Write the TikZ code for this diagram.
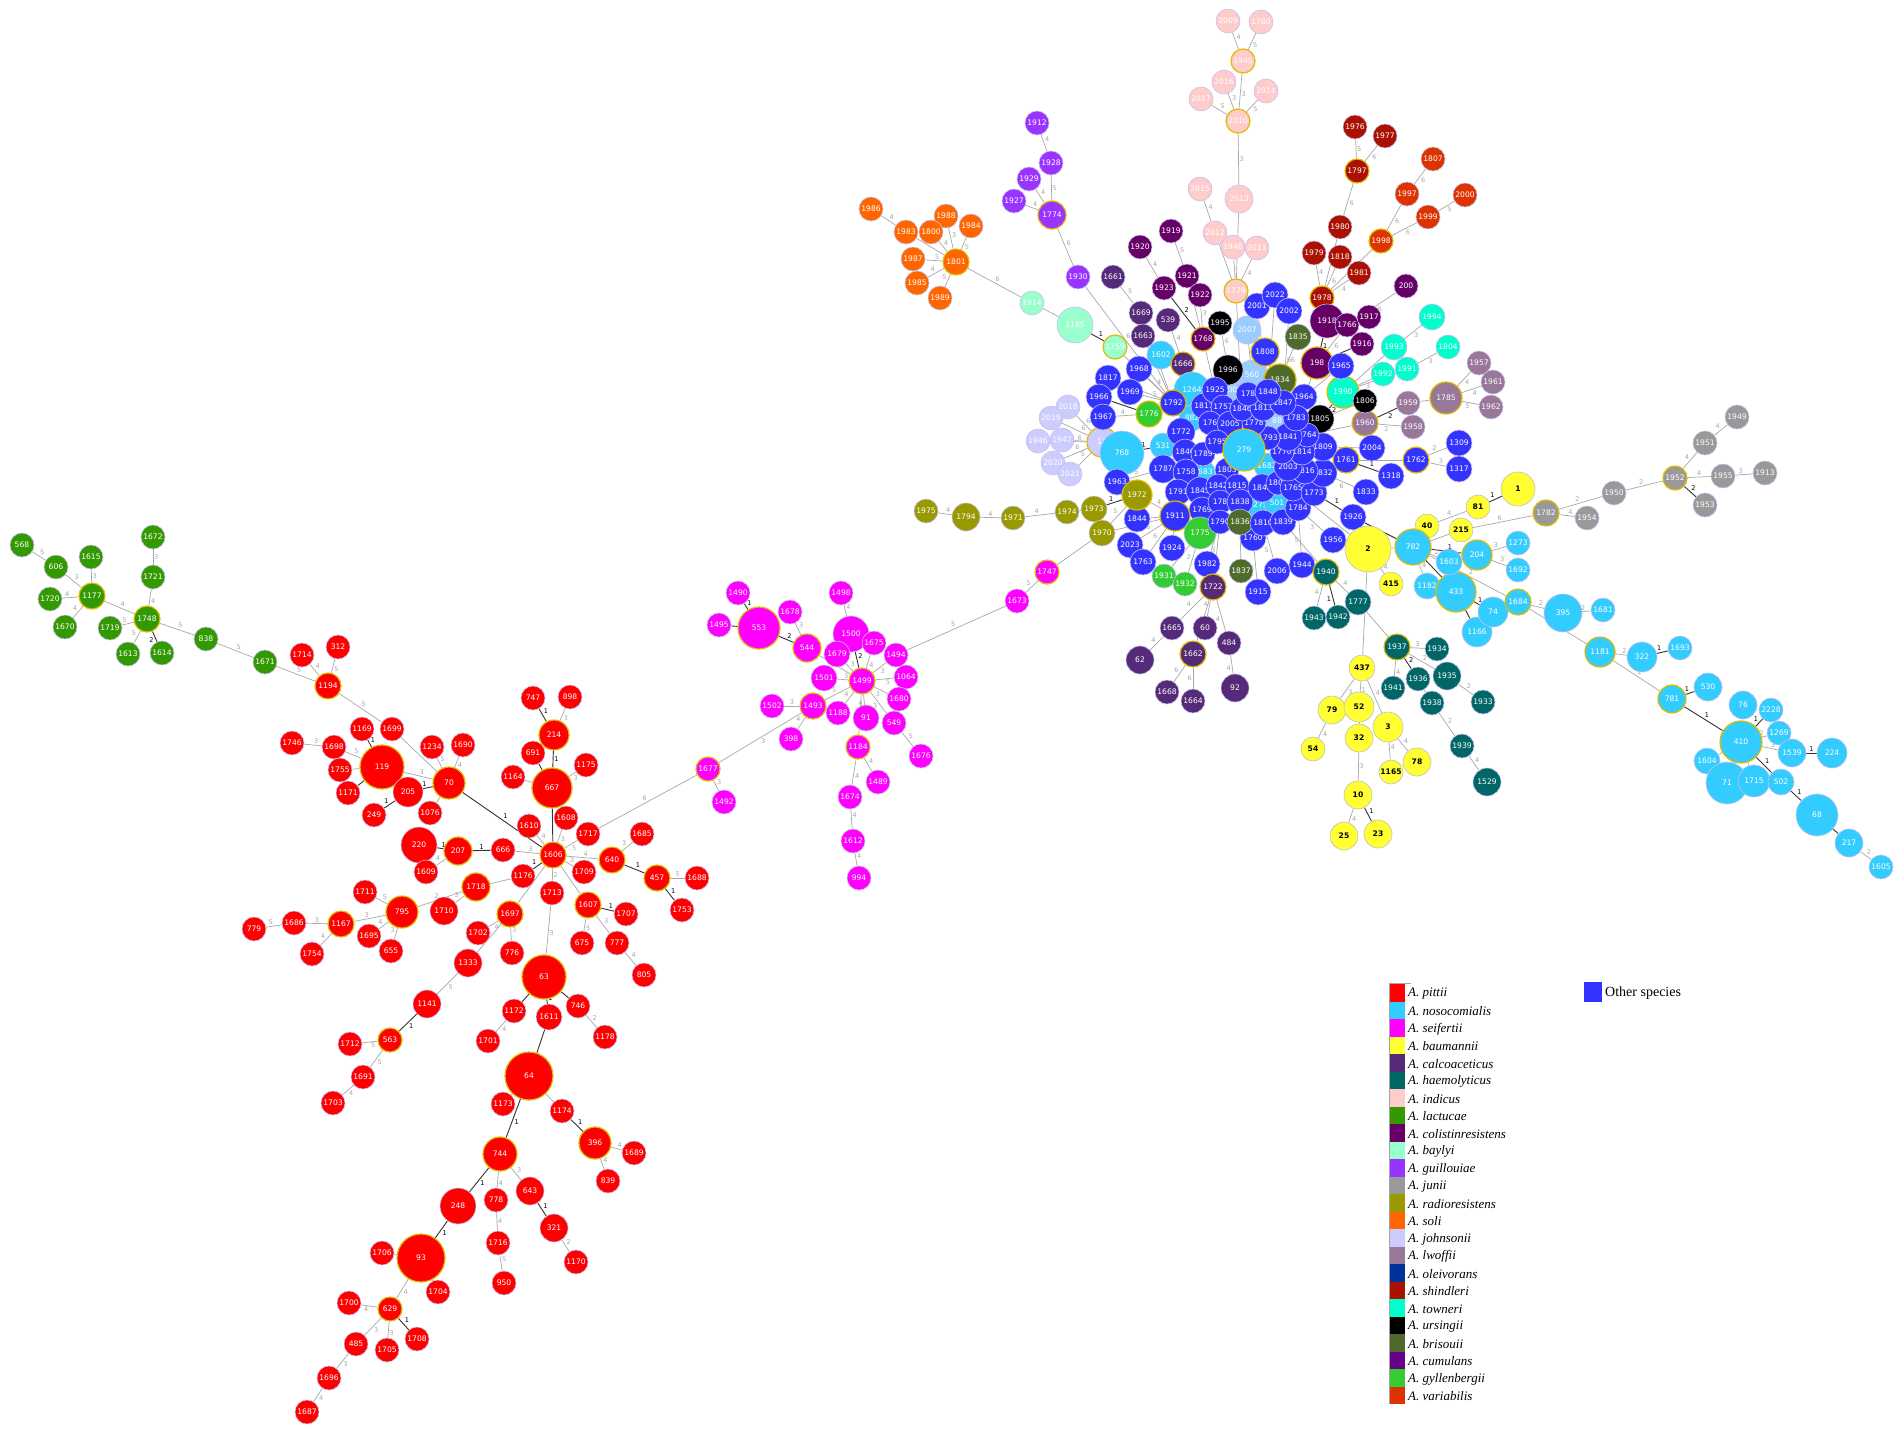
\documentclass[tikz,border=0pt]{standalone}
\usepackage{fontspec}
\setsansfont{DejaVu Sans}
\newfontfamily\legfont{Liberation Serif}
\usetikzlibrary{backgrounds}
\pgfdeclarelayer{bgzero}
\pgfsetlayers{bgzero,background,main}
\definecolor{cPit}{HTML}{FF0000}
\definecolor{cNos}{HTML}{33CCFF}
\definecolor{cSei}{HTML}{FF00FF}
\definecolor{cBau}{HTML}{FFFF33}
\definecolor{cCal}{HTML}{552A78}
\definecolor{cHae}{HTML}{006666}
\definecolor{cInd}{HTML}{FFCCCC}
\definecolor{cLac}{HTML}{339900}
\definecolor{cCol}{HTML}{660066}
\definecolor{cBay}{HTML}{99FFCC}
\definecolor{cGui}{HTML}{9933FF}
\definecolor{cJun}{HTML}{999999}
\definecolor{cRad}{HTML}{999900}
\definecolor{cSol}{HTML}{FF6600}
\definecolor{cJoh}{HTML}{CCCCFF}
\definecolor{cLwo}{HTML}{997799}
\definecolor{cOle}{HTML}{003399}
\definecolor{cShi}{HTML}{AA1100}
\definecolor{cTow}{HTML}{00FFCC}
\definecolor{cUrs}{HTML}{000000}
\definecolor{cBri}{HTML}{4F6B2B}
\definecolor{cCum}{HTML}{660088}
\definecolor{cGyl}{HTML}{33CC33}
\definecolor{cVar}{HTML}{DD3300}
\definecolor{cOth}{HTML}{3333FF}
\definecolor{cLb}{HTML}{99CCFF}
\definecolor{cBord}{HTML}{C8C0F0}
\definecolor{cRing}{HTML}{DDBB00}
\definecolor{cEdge}{HTML}{A8A8A8}
\definecolor{cDark}{HTML}{333333}
\tikzset{
 nd/.style={circle,draw=cBord,line width=0.6pt,inner sep=0pt,text=white,font=\sffamily\fontsize{7.6}{8}\selectfont},
 ring/.style={draw=cRing,line width=1.2pt},
 yl/.style={text=black,draw=gray!50,font=\sffamily\bfseries\fontsize{7.6}{8}\selectfont},
 ed/.style={draw=cEdge,line width=0.7pt},
 dk/.style={draw=cDark,line width=0.9pt},
 el/.style={font=\sffamily\fontsize{6.5}{7}\selectfont,text=cEdge,inner sep=0.8pt,auto},
 dl/.style={font=\sffamily\fontsize{6.5}{7}\selectfont,text=black,inner sep=0.8pt,auto},
 leg/.style={anchor=west,inner sep=0pt,font=\legfont\itshape\fontsize{13}{14}\selectfont},
}
\newcommand\Nd[5][]{\node[nd,fill=#4,minimum size=#5pt,#1] (n#2) at (#3) {#2};}
\newcommand\NdL[6][]{\node[nd,fill=#4,minimum size=#5pt,#1] (n#2) at (#3) {#6};}
\newcommand\Ed[3]{\draw[ed] (n#1) -- node[el]{#3} (n#2);}
\newcommand\EdP[4]{\draw[ed] (n#1) -- node[el,pos=#4]{#3} (n#2);}
\newcommand\Dk[2]{\draw[dk] (n#1) -- node[dl]{1} (n#2);}
\newcommand\Dn[3]{\draw[dk] (n#1) -- node[dl]{#3} (n#2);}
\begin{document}
\begin{tikzpicture}[x=1pt,y=-1pt]
\begin{pgfonlayer}{bgzero}
\fill[white] (0,0) rectangle (1902,1435);
\end{pgfonlayer}
\useasboundingbox (0,0) rectangle (1902,1435);
% ---------------- lactucae
\Nd{568}{22,545}{cLac}{24}
\Nd{606}{56,567}{cLac}{24}
\Nd{1615}{91,557}{cLac}{24}
\Nd{1720}{50,599}{cLac}{24}
\Nd[ring]{1177}{92,596}{cLac}{26}
\Nd{1670}{65,627}{cLac}{24}
\Nd{1672}{153,537}{cLac}{24}
\Nd{1721}{153,577}{cLac}{24}
\Nd[ring]{1748}{147,619}{cLac}{26}
\Nd{1719}{110,628}{cLac}{24}
\Nd{1613}{128,654}{cLac}{24}
\Nd{1614}{162,653}{cLac}{24}
\Nd{838}{206,639}{cLac}{24}
\Nd{1671}{265,662}{cLac}{24}
% ---------------- pittii
\Nd{1714}{302,655}{cPit}{24}
\Nd{312}{338,647}{cPit}{24}
\Nd[ring]{1194}{328,686}{cPit}{26}
\Nd{1169}{362,729}{cPit}{24}
\Nd{1699}{392,729}{cPit}{24}
\Nd{1746}{292,743}{cPit}{24}
\Nd{1698}{334,747}{cPit}{24}
\Nd{1755}{340,770}{cPit}{24}
\Nd{1171}{348,793}{cPit}{24}
\Nd[ring]{119}{382,767}{cPit}{44}
\Nd{1234}{432,747}{cPit}{24}
\Nd{1690}{463,745}{cPit}{24}
\Nd{249}{374,815}{cPit}{24}
\Nd{1076}{430,813}{cPit}{24}
\Nd{205}{408,792}{cPit}{30}
\Nd[ring]{70}{449,783}{cPit}{32}
\Nd{747}{533,698}{cPit}{24}
\Nd{898}{570,697}{cPit}{24}
\Nd[ring]{214}{554,735}{cPit}{30}
\Nd{691}{533,753}{cPit}{24}
\Nd{1175}{586,765}{cPit}{24}
\Nd{1164}{513,777}{cPit}{24}
\Nd[ring]{667}{552,788}{cPit}{40}
\Nd{1608}{566,818}{cPit}{24}
\Nd{1610}{529,826}{cPit}{24}
\Nd{220}{419,845}{cPit}{36}
\Nd[ring]{207}{458,851}{cPit}{28}
\Nd{666}{503,850}{cPit}{24}
\Nd{1609}{426,872}{cPit}{24}
\Nd{1717}{588,834}{cPit}{24}
\Nd{1685}{642,834}{cPit}{24}
\Nd[ring]{640}{612,860}{cPit}{26}
\Nd[ring]{457}{657,878}{cPit}{26}
\Nd{1688}{697,878}{cPit}{24}
\Nd{1753}{682,910}{cPit}{24}
\Nd{1709}{584,872}{cPit}{24}
\Nd{1176}{523,876}{cPit}{24}
\Nd[ring]{1606}{553,855}{cPit}{26}
\Nd[ring]{1718}{476,887}{cPit}{28}
\Nd{1713}{552,893}{cPit}{24}
\Nd{1711}{365,892}{cPit}{24}
\Nd{1710}{444,911}{cPit}{28}
\Nd[ring]{795}{402,912}{cPit}{32}
\Nd[ring]{1607}{588,905}{cPit}{26}
\Nd{1707}{626,914}{cPit}{24}
\Nd[ring]{1697}{510,914}{cPit}{26}
\Nd{779}{254,929}{cPit}{24}
\Nd{1686}{294,923}{cPit}{24}
\Nd[ring]{1167}{341,924}{cPit}{26}
\Nd{1695}{369,936}{cPit}{24}
\Nd{655}{391,951}{cPit}{24}
\Nd{1754}{312,954}{cPit}{24}
\Nd{1702}{478,933}{cPit}{24}
\Nd{776}{512,953}{cPit}{24}
\Nd{675}{582,943}{cPit}{24}
\Nd{777}{617,943}{cPit}{24}
\Nd{805}{644,975}{cPit}{24}
\Nd{1333}{468,963}{cPit}{28}
\Nd[ring]{63}{544,977}{cPit}{44}
\Nd{1141}{427,1004}{cPit}{28}
\Nd{1172}{514,1011}{cPit}{24}
\Nd{1611}{549,1017}{cPit}{26}
\Nd{746}{578,1006}{cPit}{24}
\Nd{1178}{605,1037}{cPit}{24}
\Nd{1701}{488,1041}{cPit}{24}
\Nd[ring]{563}{390,1040}{cPit}{24}
\Nd{1712}{350,1044}{cPit}{24}
\Nd{1691}{363,1077}{cPit}{24}
\Nd{1703}{333,1103}{cPit}{24}
\Nd[ring]{64}{529,1076}{cPit}{48}
\Nd{1173}{503,1104}{cPit}{24}
\Nd{1174}{562,1111}{cPit}{24}
\Nd[ring]{396}{595,1143}{cPit}{32}
\Nd{1689}{634,1153}{cPit}{24}
\Nd{839}{608,1181}{cPit}{24}
\Nd[ring]{744}{500,1154}{cPit}{34}
\Nd{778}{496,1200}{cPit}{24}
\Nd{643}{530,1191}{cPit}{28}
\Nd{248}{458,1206}{cPit}{36}
\Nd{321}{554,1228}{cPit}{28}
\Nd{1716}{498,1243}{cPit}{24}
\Nd{1170}{576,1262}{cPit}{24}
\Nd{950}{504,1283}{cPit}{24}
\Nd{1706}{382,1253}{cPit}{24}
\Nd[ring]{93}{421,1258}{cPit}{48}
\Nd{1704}{438,1292}{cPit}{24}
\Nd{1700}{349,1303}{cPit}{24}
\Nd[ring]{629}{390,1309}{cPit}{24}
\Nd{485}{356,1344}{cPit}{24}
\Nd{1705}{387,1350}{cPit}{24}
\Nd{1708}{417,1339}{cPit}{24}
\Nd{1696}{329,1378}{cPit}{24}
\Nd{1687}{307,1412}{cPit}{24}
% ---------------- seifertii
\Nd[ring]{1747}{1047,572}{cSei}{24}
\Nd{1673}{1017,601}{cSei}{24}
\Nd{1490}{738,593}{cSei}{24}
\Nd{1498}{841,593}{cSei}{24}
\Nd{1678}{790,612}{cSei}{24}
\Nd{1495}{719,625}{cSei}{24}
\Nd[ring]{553}{759,628}{cSei}{42}
\Nd{1500}{851,634}{cSei}{36}
\Nd{1675}{874,643}{cSei}{24}
\Nd[ring]{544}{807,648}{cSei}{28}
\Nd{1679}{837,654}{cSei}{26}
\Nd{1494}{896,655}{cSei}{24}
\Nd{1501}{824,678}{cSei}{26}
\Nd{1064}{906,677}{cSei}{24}
\Nd{1502}{772,706}{cSei}{24}
\Nd[ring]{1493}{813,706}{cSei}{26}
\Nd{1188}{838,713}{cSei}{24}
\Nd{91}{866,718}{cSei}{26}
\Nd{1680}{899,699}{cSei}{24}
\Nd{549}{894,723}{cSei}{24}
\Nd{398}{791,739}{cSei}{24}
\Nd[ring]{1184}{858,747}{cSei}{24}
\Nd{1676}{921,756}{cSei}{24}
\Nd[ring]{1677}{708,769}{cSei}{24}
\Nd{1492}{724,802}{cSei}{24}
\Nd{1489}{878,782}{cSei}{24}
\Nd{1674}{850,797}{cSei}{24}
\Nd{1612}{853,841}{cSei}{24}
\Nd{994}{859,878}{cSei}{24}
\Nd[ring]{1499}{862,681}{cSei}{26}
% ---------------- soli
\Nd{1986}{871,209}{cSol}{24}
\Nd{1988}{946,216}{cSol}{24}
\Nd{1984}{971,226}{cSol}{24}
\Nd{1983}{906,232}{cSol}{24}
\Nd{1800}{931,232}{cSol}{24}
\Nd{1987}{913,259}{cSol}{24}
\Nd[ring]{1801}{956,262}{cSol}{26}
\Nd{1985}{917,283}{cSol}{24}
\Nd{1989}{940,298}{cSol}{24}
% ---------------- guillouiae
\Nd{1912}{1037,123}{cGui}{24}
\Nd{1928}{1051,163}{cGui}{24}
\Nd{1929}{1029,179}{cGui}{24}
\Nd{1927}{1014,201}{cGui}{24}
\Nd[ring]{1774}{1052,215}{cGui}{28}
\Nd{1930}{1078,277}{cGui}{24}
% ---------------- baylyi
\Nd{1914}{1032,303}{cBay}{24}
\Nd{1185}{1075,325}{cBay}{36}
\Nd[ring]{1759}{1115,347}{cBay}{24}
% ---------------- indicus
\Nd{2009}{1228,21}{cInd}{24}
\Nd{1780}{1261,22}{cInd}{24}
\Nd[ring]{1945}{1243,61}{cInd}{24}
\Nd{2016}{1224,82}{cInd}{24}
\Nd{2017}{1201,99}{cInd}{24}
\Nd{2014}{1266,91}{cInd}{24}
\Nd[ring]{2010}{1238,121}{cInd}{24}
\Nd{2015}{1200,189}{cInd}{24}
\Nd{2013}{1239,199}{cInd}{28}
\Nd{2012}{1215,233}{cInd}{24}
\Nd{1946}{1233,247}{cInd}{24}
\Nd{2011}{1257,248}{cInd}{24}
\Nd[ring]{1779}{1236,291}{cInd}{24}
% ---------------- calcoaceticus / colistinresistens top
\Nd{1661}{1113,277}{cCal}{24}
\Nd{1669}{1141,313}{cCal}{24}
\Nd{1663}{1143,336}{cCal}{24}
\Nd{539}{1168,320}{cCal}{24}
\Nd{1920}{1140,247}{cCol}{24}
\Nd{1919}{1171,231}{cCol}{24}
\Nd{1921}{1187,276}{cCol}{24}
\Nd{1923}{1164,288}{cCol}{24}
\Nd{1922}{1200,295}{cCol}{24}
\Nd[ring]{1768}{1203,339}{cCol}{24}
\Nd{1995}{1220,323}{black}{24}
\Nd{1602}{1161,355}{cNos}{28}
\Nd[ring]{1666}{1183,364}{cCal}{24}
% ---------------- shindleri / variabilis
\Nd{1976}{1355,127}{cShi}{24}
\Nd{1977}{1385,136}{cShi}{24}
\Nd[ring]{1797}{1357,171}{cShi}{24}
\Nd{1980}{1340,227}{cShi}{24}
\Nd{1979}{1314,253}{cShi}{24}
\Nd{1818}{1340,257}{cShi}{24}
\Nd{1981}{1359,273}{cShi}{24}
\Nd[ring]{1978}{1322,298}{cShi}{24}
\Nd{1807}{1433,159}{cVar}{24}
\Nd{1997}{1407,194}{cVar}{24}
\Nd{2000}{1465,195}{cVar}{24}
\Nd{1999}{1428,217}{cVar}{24}
\Nd[ring]{1998}{1381,241}{cVar}{24}
% ---------------- colistinresistens right
\Nd{200}{1406,286}{cCol}{24}
\Nd{1918}{1327,321}{cCol}{34}
\Nd{1766}{1347,325}{cCol}{24}
\Nd{1917}{1369,317}{cCol}{24}
\Nd{1916}{1362,344}{cCol}{24}
\Nd[ring]{198}{1317,363}{cCol}{32}
% ---------------- towneri
\Nd{1994}{1432,317}{cTow}{26}
\Nd{1993}{1394,347}{cTow}{26}
\Nd{1804}{1448,347}{cTow}{24}
\Nd{1992}{1383,374}{cTow}{24}
\Nd{1991}{1407,369}{cTow}{24}
\Nd[ring]{1990}{1343,392}{cTow}{32}
% ---------------- lwoffii
\Nd{1957}{1479,363}{cLwo}{24}
\Nd{1961}{1493,382}{cLwo}{24}
\Nd{1962}{1491,407}{cLwo}{24}
\Nd[ring]{1785}{1446,398}{cLwo}{32}
\Nd{1959}{1408,403}{cLwo}{24}
\Nd{1958}{1413,427}{cLwo}{24}
\Nd[ring]{1960}{1365,423}{cLwo}{26}
\Nd{1806}{1365,401}{black}{24}
% ---------------- brisouii
\Nd{1835}{1298,337}{cBri}{26}
% ---------------- radioresistens
\Nd{1975}{926,511}{cRad}{24}
\Nd{1794}{966,517}{cRad}{28}
\Nd{1971}{1013,518}{cRad}{24}
\Nd{1974}{1067,512}{cRad}{24}
\Nd{1973}{1094,509}{cRad}{26}
\Nd{1970}{1102,533}{cRad}{26}
% ---------------- johnsonii
\Nd{2018}{1068,407}{cJoh}{24}
\Nd{2019}{1051,418}{cJoh}{24}
\NdL{Ja}{1038,441}{cJoh}{24}{1946}
\Nd{1947}{1062,440}{cJoh}{24}
\Nd{2020}{1053,463}{cJoh}{24}
\Nd{2021}{1070,474}{cJoh}{24}
\NdL[ring]{jh}{1102,442}{cJoh}{30}{17}
% ---------------- central cluster
\Nd{1264}{1192,390}{cNos}{36}
\Nd{882}{1192,418}{cNos}{26}
\Nd{1683}{1203,472}{cNos}{24}
\Nd{1275}{1258,505}{cNos}{26}
\Nd{501}{1277,503}{cNos}{26}
\Nd{1682}{1267,466}{cNos}{26}
\NdL{Lb200}{1230,390}{cLb}{26}{200}
\Nd{88}{1277,421}{cLb}{24}
\Nd{2007}{1247,330}{cLb}{28}
\Nd{560}{1252,375}{cLb}{30}
\Nd{1996}{1228,370}{black}{30}
\Nd[ring]{1834}{1280,380}{cBri}{32}
\Nd{531}{1163,446}{cNos}{26}
\Nd{768}{1122,453}{cNos}{44}
\Nd{1817}{1108,378}{cOth}{26}
\Nd{1968}{1139,369}{cOth}{26}
\Nd{1966}{1099,397}{cOth}{26}
\Nd{1969}{1130,392}{cOth}{26}
\Nd{1967}{1103,417}{cOth}{26}
\Nd[ring]{1776}{1149,414}{cGyl}{26}
\Nd{1963}{1117,482}{cOth}{26}
\Nd{1844}{1137,519}{cOth}{26}
\Nd[ring]{1972}{1137,495}{cRad}{30}
\Nd{2023}{1130,545}{cOth}{26}
\Nd{1763}{1143,562}{cOth}{26}
\Nd{1924}{1172,548}{cOth}{26}
\Nd{1931}{1164,576}{cGyl}{24}
\Nd{1932}{1185,584}{cGyl}{24}
\Nd{1982}{1207,564}{cOth}{26}
\Nd{1837}{1241,571}{cBri}{24}
\Nd{1915}{1258,592}{cOth}{26}
\Nd{2006}{1277,571}{cOth}{26}
\Nd{1944}{1302,565}{cOth}{26}
\Nd{1956}{1333,540}{cOth}{26}
\Nd{1926}{1353,517}{cOth}{26}
\Nd{1833}{1366,492}{cOth}{26}
\Nd{1318}{1391,476}{cOth}{26}
\Nd{2004}{1372,448}{cOth}{26}
\Nd[ring]{1761}{1346,460}{cOth}{26}
\Nd[ring]{1762}{1416,460}{cOth}{26}
\Nd{1309}{1459,443}{cOth}{26}
\Nd{1317}{1459,469}{cOth}{26}
\Nd[ring]{1808}{1265,352}{cOth}{28}
\Nd{2001}{1257,306}{cOth}{26}
\Nd{2022}{1275,295}{cOth}{26}
\Nd{2002}{1289,311}{cOth}{26}
\Nd{1965}{1341,366}{cOth}{26}
\Nd{1964}{1304,397}{cOth}{26}
\Nd{1760}{1253,538}{cOth}{26}
\Nd[ring]{1792}{1173,403}{cOth}{26}
\Nd{1772}{1181,432}{cOth}{28}
\Nd{1787}{1163,469}{cOth}{28}
\Nd{1840}{1185,452}{cOth}{26}
\Nd{1758}{1186,472}{cOth}{26}
\Nd{1791}{1178,492}{cOth}{26}
\Nd{1845}{1200,491}{cOth}{28}
\Nd{1769}{1202,510}{cOth}{26}
\Nd[ring]{1911}{1175,516}{cOth}{30}
\Nd{1775}{1200,533}{cGyl}{32}
\Nd{1811}{1204,406}{cOth}{26}
\Nd{1925}{1215,390}{cOth}{26}
\Nd{1757}{1223,407}{cOth}{24}
\NdL{H176}{1210,423}{cOth}{24}{176}
\Nd{2005}{1230,424}{cOth}{26}
\Nd{1789}{1203,454}{cOth}{24}
\Nd{1795}{1217,442}{cOth}{24}
\Nd{1803}{1227,470}{cOth}{24}
\Nd{1842}{1218,486}{cOth}{24}
\Nd{1815}{1237,486}{cOth}{24}
\NdL{H178a}{1220,502}{cOth}{24}{178}
\Nd{1790}{1220,522}{cOth}{24}
\Nd{1838}{1240,502}{cOth}{26}
\Nd{1836}{1240,522}{cBri}{26}
\Nd{1843}{1262,488}{cOth}{28}
\Nd{1810}{1263,523}{cOth}{26}
\Nd{1839}{1283,522}{cOth}{26}
\Nd{1784}{1298,508}{cOth}{26}
\Nd{1802}{1278,483}{cOth}{24}
\Nd{1765}{1293,488}{cOth}{26}
\Nd{1773}{1314,493}{cOth}{26}
\Nd{1832}{1323,473}{cOth}{28}
\Nd{1816}{1305,471}{cOth}{26}
\Nd{2003}{1288,467}{cOth}{28}
\Nd{1809}{1323,447}{cOth}{28}
\Nd{1814}{1302,452}{cOth}{26}
\Nd{1770}{1282,452}{cOth}{24}
\Nd{1805}{1320,419}{black}{28}
\Nd{1764}{1307,435}{cOth}{24}
\Nd{1841}{1288,437}{cOth}{28}
\Nd{1793}{1268,438}{cOth}{24}
\Nd{1783}{1296,418}{cOth}{26}
\Nd{1778}{1254,423}{cOth}{24}
\Nd{1846}{1242,409}{cOth}{24}
\Nd{1813}{1263,408}{cOth}{26}
\Nd{1847}{1283,403}{cOth}{26}
\NdL{H178b}{1248,394}{cOth}{24}{178}
\Nd{1848}{1268,392}{cOth}{26}
\Nd[ring]{279}{1244,450}{cNos}{42}
% ---------------- calcoaceticus bottom
\Nd[ring]{1722}{1213,587}{cCal}{26}
\Nd{1665}{1172,628}{cCal}{24}
\Nd{60}{1205,628}{cCal}{24}
\Nd{484}{1229,643}{cCal}{24}
\Nd{62}{1140,660}{cCal}{28}
\Nd[ring]{1662}{1193,654}{cCal}{26}
\Nd{1668}{1167,692}{cCal}{24}
\Nd{1664}{1193,701}{cCal}{24}
\Nd{92}{1235,688}{cCal}{28}
% ---------------- haemolyticus
\Nd[ring]{1940}{1326,572}{cHae}{26}
\Nd{1777}{1358,602}{cHae}{26}
\Nd{1943}{1314,618}{cHae}{24}
\Nd{1942}{1338,617}{cHae}{24}
\Nd[ring]{1937}{1397,647}{cHae}{26}
\Nd{1934}{1437,649}{cHae}{24}
\Nd{1936}{1418,679}{cHae}{24}
\Nd{1935}{1447,676}{cHae}{28}
\Nd{1941}{1393,688}{cHae}{24}
\Nd{1938}{1432,703}{cHae}{24}
\Nd{1933}{1483,702}{cHae}{24}
\Nd{1939}{1462,746}{cHae}{24}
\Nd{1529}{1487,782}{cHae}{28}
% ---------------- baumannii
\Nd[yl]{2}{1368,549}{cBau}{46}
\Nd[yl]{415}{1391,584}{cBau}{24}
\Nd[yl]{40}{1427,526}{cBau}{24}
\Nd[yl]{81}{1478,507}{cBau}{24}
\Nd[yl]{215}{1461,530}{cBau}{24}
\Nd[yl]{1}{1518,489}{cBau}{34}
\Nd[yl]{437}{1362,668}{cBau}{26}
\Nd[yl]{79}{1332,710}{cBau}{28}
\Nd[yl]{52}{1359,707}{cBau}{30}
\Nd[yl]{3}{1388,727}{cBau}{30}
\Nd[yl]{32}{1359,738}{cBau}{28}
\Nd[yl]{54}{1313,749}{cBau}{24}
\Nd[yl]{1165}{1391,772}{cBau}{24}
\Nd[yl]{78}{1417,762}{cBau}{28}
\Nd[yl]{10}{1358,795}{cBau}{28}
\Nd[yl]{25}{1344,836}{cBau}{28}
\Nd[yl]{23}{1378,834}{cBau}{28}
% ---------------- junii
\Nd[ring]{1782}{1546,513}{cJun}{26}
\Nd{1954}{1587,518}{cJun}{24}
\Nd{1950}{1614,493}{cJun}{24}
\Nd[ring]{1952}{1675,478}{cJun}{24}
\Nd{1951}{1705,443}{cJun}{24}
\Nd{1949}{1737,417}{cJun}{24}
\Nd{1955}{1723,476}{cJun}{24}
\Nd{1913}{1765,473}{cJun}{24}
\Nd{1953}{1705,505}{cJun}{24}
% ---------------- nosocomialis
\Nd{1273}{1518,543}{cNos}{24}
\Nd{1692}{1518,570}{cNos}{24}
\Nd{1182}{1427,586}{cNos}{26}
\Nd[ring]{782}{1413,547}{cNos}{36}
\Nd{1166}{1477,632}{cNos}{30}
\Nd{74}{1493,612}{cNos}{30}
\Nd[ring]{433}{1456,592}{cNos}{40}
\Nd{1603}{1449,562}{cNos}{26}
\Nd[ring]{204}{1477,555}{cNos}{30}
\Nd[ring]{1684}{1518,602}{cNos}{26}
\Nd{395}{1563,613}{cNos}{38}
\Nd{1681}{1603,610}{cNos}{24}
\Nd[ring]{1181}{1600,652}{cNos}{30}
\Nd{322}{1642,657}{cNos}{30}
\Nd{1693}{1680,648}{cNos}{24}
\Nd[ring]{781}{1672,699}{cNos}{28}
\Nd{530}{1708,687}{cNos}{28}
\Nd{76}{1743,705}{cNos}{28}
\Nd{2228}{1771,710}{cNos}{24}
\Nd{1269}{1779,733}{cNos}{24}
\Nd{1604}{1707,761}{cNos}{26}
\Nd{71}{1727,783}{cNos}{42}
\Nd{1715}{1754,781}{cNos}{32}
\Nd{502}{1781,782}{cNos}{26}
\Nd[ring]{410}{1741,742}{cNos}{42}
\Nd{1539}{1792,753}{cNos}{28}
\Nd{224}{1832,753}{cNos}{30}
\Nd{68}{1817,815}{cNos}{42}
\Nd{217}{1849,843}{cNos}{28}
\Nd{1605}{1881,867}{cNos}{24}
% ================= edges
\begin{pgfonlayer}{background}
\Ed{568}{606}{5}\Ed{606}{1177}{3}\Ed{1615}{1177}{3}\Ed{1720}{1177}{4}\Ed{1670}{1177}{4}
\Ed{1177}{1748}{4}\Ed{1672}{1721}{3}\Ed{1721}{1748}{4}\Ed{1719}{1748}{5}\Ed{1613}{1748}{5}
\Dn{1614}{1748}{2}\Ed{1748}{838}{5}\Ed{838}{1671}{5}\Ed{1671}{1194}{5}
\Ed{1714}{1194}{4}\Ed{312}{1194}{5}\Ed{1194}{1699}{5}\Ed{1699}{70}{}
\Dk{1169}{119}\Ed{1698}{119}{5}\Ed{1746}{1698}{3}\Ed{1755}{119}{}\Dn{1171}{119}{}
\Ed{119}{70}{3}\Dk{205}{70}\Dk{249}{205}\Ed{1234}{70}{5}\Ed{1690}{70}{4}\Ed{1076}{70}{}
\Dk{70}{1606}\Dk{747}{214}\Ed{898}{214}{3}\Dk{214}{667}\Dn{691}{667}{}\Ed{1164}{667}{}
\Ed{1175}{667}{3}\Dn{667}{1606}{}\Ed{1608}{1606}{3}\Ed{1610}{1606}{4}\Ed{1717}{1606}{5}
\Ed{1717}{1677}{6}\Dk{220}{207}\Ed{1609}{207}{4}\Dk{207}{666}\Ed{666}{1606}{3}
\Ed{1606}{640}{4}\Ed{640}{1685}{3}\Dk{640}{457}\Ed{457}{1688}{5}\Dk{457}{1753}
\Ed{1606}{1709}{3}\Dk{1176}{1606}\Ed{1718}{1176}{}\Ed{1710}{1718}{3}\Ed{795}{1718}{2}
\Ed{1711}{795}{5}\Ed{1167}{795}{3}\Ed{1695}{795}{4}\Ed{655}{795}{3}\Ed{1686}{1167}{3}
\Ed{779}{1686}{5}\Ed{1754}{1167}{4}\Ed{1606}{1713}{2}\Ed{1713}{63}{3}\Ed{1606}{1607}{}
\Dk{1607}{1707}\Ed{1607}{675}{5}\Ed{1607}{777}{3}\Ed{777}{805}{4}\Ed{1606}{1697}{}
\Ed{1697}{1702}{4}\Ed{1697}{776}{3}\Ed{1333}{1697}{}\Ed{1333}{1141}{5}\Dk{1141}{563}
\Ed{563}{1712}{5}\Ed{563}{1691}{5}\Ed{1691}{1703}{4}\Dn{63}{1172}{}\Dk{63}{1611}
\Dn{63}{746}{}\Ed{746}{1178}{2}\Ed{1172}{1701}{4}\Dn{1611}{64}{}\Ed{64}{1173}{}
\Ed{64}{1174}{}\Dk{1174}{396}\Ed{396}{1689}{4}\Ed{396}{839}{4}\Dk{64}{744}
\Ed{744}{778}{4}\Ed{744}{643}{3}\Dk{744}{248}\Dk{643}{321}\Ed{778}{1716}{4}
\Ed{1716}{950}{5}\Ed{321}{1170}{2}\Dk{248}{93}\Ed{93}{1706}{}\Ed{93}{1704}{}
\Ed{93}{629}{4}\Ed{629}{1700}{4}\Ed{629}{485}{3}\Ed{629}{1705}{3}\Dk{629}{1708}
\Ed{485}{1696}{3}\Ed{1696}{1687}{4}
% seifertii
\Ed{1677}{1492}{3}\Ed{1493}{1677}{3}\Dk{1490}{553}\Dn{1495}{553}{}\Dn{553}{544}{2}
\Ed{1678}{544}{3}\Ed{544}{1499}{}\Ed{1498}{1500}{4}\Dn{1500}{1499}{2}\Ed{1675}{1499}{4}
\Ed{1679}{1499}{3}\Ed{1494}{1499}{3}\Ed{1501}{1499}{3}\Ed{1064}{1499}{5}\Ed{1680}{1499}{3}
\Ed{549}{1499}{3}\Ed{91}{1499}{4}\Ed{1188}{1499}{4}\Ed{1493}{1499}{5}\Ed{1502}{1493}{3}
\Ed{398}{1493}{4}\Ed{1184}{1499}{}\Ed{549}{1676}{5}\Ed{1184}{1489}{4}\Ed{1184}{1674}{4}
\Ed{1674}{1612}{4}\Ed{1612}{994}{4}\Ed{1494}{1673}{5}\Ed{1673}{1747}{5}\Ed{1747}{1970}{}
% radioresistens
\Ed{1975}{1794}{4}\Ed{1794}{1971}{4}\Ed{1971}{1974}{4}\Ed{1974}{1973}{}\Dk{1973}{1972}
\Ed{1970}{1972}{5}\Ed{1972}{1911}{4}\Ed{1970}{1911}{}
% soli, guillouiae, baylyi
\Ed{1986}{1983}{4}\Ed{1983}{1801}{}\Ed{1988}{1801}{3}\Ed{1800}{1801}{4}\Ed{1984}{1801}{5}
\Ed{1987}{1801}{5}\Ed{1985}{1801}{4}\Ed{1989}{1801}{5}\Ed{1801}{1914}{6}\Ed{1914}{1185}{}
\Dk{1185}{1759}\Ed{1759}{1792}{}
\Ed{1912}{1928}{4}\Ed{1928}{1774}{5}\Ed{1929}{1774}{4}\Ed{1927}{1774}{4}\Ed{1774}{1930}{6}
\Ed{1930}{1792}{6}
% indicus
\Ed{2009}{1945}{4}\Ed{1780}{1945}{5}\Ed{1945}{2010}{3}\Ed{2016}{2010}{3}\Ed{2017}{2010}{5}
\Ed{2014}{2010}{5}\Ed{2010}{2013}{3}\Ed{2015}{2012}{4}\Ed{2012}{1779}{}\Ed{2013}{1779}{}
\Ed{1946}{1779}{}\Ed{2011}{1779}{4}\Ed{1779}{279}{}
% top purple
\Ed{1661}{1669}{5}\Ed{1669}{1792}{}\Ed{1663}{1792}{}\Ed{1920}{1923}{4}\Ed{1919}{1921}{5}
\Ed{1921}{1768}{}\Dn{1923}{1768}{2}\Ed{1922}{1768}{3}\Ed{539}{1666}{4}\Ed{1768}{1925}{}
\Ed{1995}{1996}{6}\Ed{1666}{1264}{}\Ed{1602}{1264}{}
% shindleri etc.
\Ed{1976}{1797}{5}\Ed{1977}{1797}{6}\Ed{1797}{1980}{6}\Ed{1980}{1978}{}\Ed{1979}{1978}{4}
\Ed{1818}{1978}{6}\Ed{1981}{1978}{4}\Ed{1807}{1997}{6}\Ed{1997}{1998}{6}\Ed{2000}{1999}{5}
\Ed{1999}{1998}{6}\Ed{1998}{1978}{}\Dk{1978}{1918}\Ed{200}{1766}{6}\Dk{1918}{198}
\Ed{1766}{198}{6}\Dk{1916}{198}\Ed{198}{1964}{}\Ed{2001}{1848}{5}\Ed{2022}{1848}{5}
\Ed{2002}{1847}{6}\Ed{2007}{560}{}\Ed{1808}{1848}{}\Ed{1835}{1834}{6}\Ed{1965}{1964}{}
% towneri, lwoffii
\Ed{1994}{1993}{3}\Ed{1993}{1990}{3}\Ed{1804}{1991}{3}\Ed{1991}{1990}{}\Ed{1992}{1990}{3}
\Dn{1990}{1805}{2}\Ed{1806}{1805}{}
\Ed{1957}{1785}{4}\Ed{1961}{1785}{4}\Ed{1962}{1785}{5}\Ed{1785}{1959}{}\Dn{1959}{1960}{2}
\Ed{1958}{1960}{2}\Ed{1960}{1764}{}
% cluster periphery
\Ed{1762}{1309}{2}\Ed{1762}{1317}{3}\Ed{1761}{1762}{4}\Dk{1761}{1318}\Ed{1761}{1809}{}
\Ed{2004}{1809}{6}\Ed{1833}{1832}{6}\Dk{1773}{1926}\Dn{1926}{782}{}\Ed{1956}{1784}{3}
\Ed{1944}{1784}{5}\Ed{2006}{1810}{5}\Ed{1915}{1760}{5}\Ed{1837}{1836}{}\Ed{1982}{1790}{2}
\Ed{1722}{1790}{3}\Ed{1932}{1775}{2}\Ed{1931}{1775}{}\Ed{1924}{1911}{}\Ed{1763}{1911}{6}
\Ed{2023}{1911}{6}\Ed{1844}{1911}{}\Ed{1963}{1787}{5}\Dk{768}{531}\Ed{1776}{1792}{}
\Ed{1967}{1776}{4}\Dn{1966}{1776}{2}\Ed{1969}{1792}{5}\Ed{1968}{1792}{4}\Ed{1817}{1792}{}
\Ed{1839}{1940}{}\Ed{2}{279}{}\Ed{1911}{1769}{}\Ed{1775}{1769}{}
\EdP{2018}{jh}{6}{0.6}\EdP{2019}{jh}{6}{0.7}\EdP{Ja}{jh}{6}{0.82}\EdP{1947}{jh}{}{0.8}
\EdP{2020}{jh}{6}{0.7}\EdP{2021}{jh}{5}{0.6}
% calcoaceticus
\Ed{1665}{1722}{4}\Ed{60}{1722}{4}\Ed{484}{1722}{4}\Ed{1662}{1722}{}\Ed{62}{1665}{4}
\Ed{1668}{1662}{6}\Ed{1664}{1662}{6}\Ed{92}{484}{4}
% haemolyticus
\Ed{1940}{1777}{4}\Ed{1943}{1940}{4}\Dk{1942}{1940}\Ed{1777}{1937}{}\Ed{1937}{1934}{3}
\Ed{1937}{1941}{4}\Dn{1937}{1936}{2}\Ed{1937}{1935}{2}\Ed{1936}{1938}{}\Ed{1935}{1933}{2}
\Ed{1938}{1939}{2}\Ed{1939}{1529}{4}
% baumannii
\Ed{2}{437}{}\Ed{2}{415}{4}\Ed{2}{782}{}\Ed{437}{79}{3}\Ed{437}{52}{1}\Ed{437}{3}{4}
\Ed{52}{32}{}\Ed{79}{54}{4}\Ed{32}{10}{3}\Ed{3}{1165}{4}\Ed{3}{78}{4}\Ed{10}{25}{4}
\Dk{10}{23}\Ed{40}{782}{}\Ed{40}{81}{4}\Dk{81}{1}\Ed{215}{1782}{6}\Ed{215}{782}{}
% junii
\Ed{1782}{1954}{4}\Ed{1782}{1950}{2}\Ed{1950}{1952}{2}\Ed{1952}{1951}{4}\Ed{1951}{1949}{4}
\Ed{1952}{1955}{4}\Ed{1955}{1913}{3}\Dn{1952}{1953}{2}
% nosocomialis
\Dk{782}{204}\Ed{782}{1603}{2}\Ed{782}{1182}{4}\Dn{782}{433}{}\Dk{433}{74}\Dn{433}{1166}{}
\Ed{204}{1273}{3}\Ed{204}{1692}{3}\Ed{782}{1684}{2}\Ed{1684}{395}{2}\Ed{395}{1681}{2}
\Ed{1684}{1181}{}\Ed{1181}{322}{2}\Dk{322}{1693}\Ed{1181}{781}{2}\Dk{781}{530}
\Dk{781}{410}\Ed{410}{76}{}\Dk{410}{2228}\Ed{410}{1269}{2}\Ed{410}{1539}{3}\Dk{1539}{224}
\Ed{410}{1604}{}\Ed{410}{71}{}\Ed{410}{1715}{}\Dk{410}{502}\Dk{502}{68}\Dn{68}{217}{}
\Ed{217}{1605}{2}
\end{pgfonlayer}
% ================= legend
\draw[gray!70,line width=0.6pt] (1411,983) -- (1389,983) -- (1389,1404);
\foreach \c/\t [count=\i from 0] in {cPit/pittii,cNos/nosocomialis,cSei/seifertii,cBau/baumannii,cCal/calcoaceticus,cHae/haemolyticus,cInd/indicus,cLac/lactucae,cCol/colistinresistens,cBay/baylyi,cGui/guillouiae,cJun/junii,cRad/radioresistens,cSol/soli,cJoh/johnsonii,cLwo/lwoffii,cOle/oleivorans,cShi/shindleri,cTow/towneri,cUrs/ursingii,cBri/brisouii,cCum/cumulans,cGyl/gyllenbergii,cVar/variabilis}{
 \fill[\c] (1390,{984+17.5*\i}) rectangle (1405,{1001.5+17.5*\i});
 \node[leg] (lg\i) at (1408,{994+17.5*\i}) {A. \t};
}
\fill[cOth] (1584,982) rectangle (1602,1002);
\node[anchor=west,inner sep=0pt,font=\legfont\fontsize{14}{15}\selectfont] (oth) at (1605,993) {Other species};
\end{tikzpicture}
\end{document}
